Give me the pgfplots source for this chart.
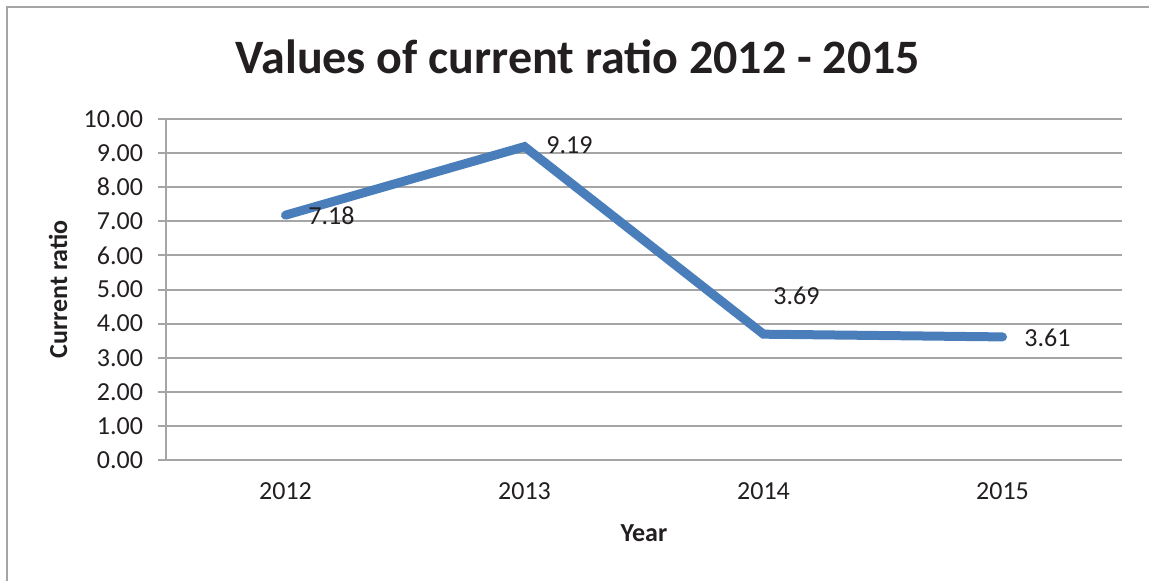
\documentclass[border=0pt]{standalone}
\usepackage{pgfplots}
\pgfplotsset{compat=1.18}
\usepackage{fontspec}
\setmainfont{Carlito}
\definecolor{linecol}{RGB}{74,126,187}
\definecolor{gridcol}{RGB}{165,165,165}
\definecolor{txt}{RGB}{35,31,32}
\pgfplotstableread{
x y dx dy
0 7.18 23 -0.5
1 9.19 22.5 0.5
2 3.69 16.5 19
3 3.61 22.5 -0.5
}\ratio
\begin{document}
\begin{tikzpicture}
\useasboundingbox (0,0) rectangle (574.5pt,-290pt);
\draw[gridcol, line width=1pt] (3.5pt,-295pt) -- (3.5pt,-3.5pt) -- (580pt,-3.5pt);
\node[txt, font=\fontsize{24}{28}\selectfont\bfseries, anchor=center] at (289pt,-28.5pt) {Values of current ratio 2012 - 2015};
\begin{axis}[
  at={(83pt,-230pt)}, anchor=south west,
  width=478pt, height=170.5pt, scale only axis,
  xmin=-0.5, xmax=3.5, ymin=0, ymax=10,
  axis x line=bottom, axis y line=left,
  axis line style={-, gridcol, line width=1pt},
  ytick={0,1,...,10},
  /pgf/number format/assume math mode=true,
  yticklabel style={/pgf/number format/fixed, /pgf/number format/fixed zerofill, /pgf/number format/precision=2, anchor=east, xshift=-4pt},
  xtick={0,1,2,3},
  xticklabels={2012,2013,2014,2015},
  x tick style={draw=none},
  extra x ticks={-0.5,0.5,1.5,2.5,3.5},
  extra x tick labels={},
  extra x tick style={major tick length=4pt, tick style={gridcol, line width=1pt, draw=gridcol}},
  tick align=outside,
  major tick length=4pt,
  y tick style={gridcol, line width=1pt},
  ymajorgrids,
  grid style={gridcol, line width=1pt},
  tick label style={txt, font=\fontsize{13}{15}\selectfont},
  xticklabel style={yshift=-4pt},
  ylabel={Current ratio},
  xlabel={Year},
  every axis y label/.style={at={([xshift=-54pt]axis description cs:0,0.5)}, rotate=90, anchor=center, font=\fontsize{13}{15}\selectfont\bfseries, txt},
  every axis x label/.style={at={(axis description cs:0.5,0)}, anchor=center, yshift=-36.5pt, font=\fontsize{13}{15}\selectfont\bfseries, txt},
  clip=false,
]
\addplot[linecol, line width=4.5pt, line cap=round, mark=none,
  nodes near coords,
  point meta=explicit,
  visualization depends on={\thisrow{dx} \as \dx},
  visualization depends on={\thisrow{dy} \as \dy},
  every node near coord/.append style={/pgf/number format/fixed, /pgf/number format/fixed zerofill, /pgf/number format/precision=2, /pgf/number format/assume math mode=true, anchor=center, xshift=\dx pt, yshift=\dy pt, txt, font=\fontsize{13}{15}\selectfont, inner sep=0pt},
] table[x=x, y=y, meta=y] {\ratio};
\end{axis}
\end{tikzpicture}
\end{document}
